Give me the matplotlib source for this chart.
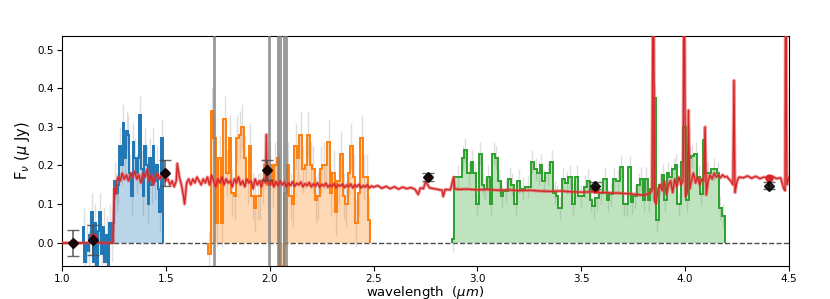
#!/usr/bin/env python3
'''Plot NIRSpec-like spectrum segments with model and photometry'''

import numpy as np
import matplotlib
matplotlib.use('Agg')
import matplotlib.pyplot as plt

# first segment: regular bins
BLUE_START = 1.100
BLUE_STEP = 0.008
blue_flux = [0.04, -0.05, 0.0, -0.02, 0.02, 0.08, -0.05, 0.05, -0.06, 0.03,
             0.08, -0.03, 0.04, -0.05, 0.02, -0.06, 0.05, 0.0, 0.05, 0.16,
             0.13, 0.15, 0.25, 0.20, 0.31, 0.22, 0.29, 0.28, 0.18, 0.12,
             0.26, 0.22, 0.18, 0.22, 0.33, 0.19, 0.12, 0.25, 0.20, 0.10,
             0.22, 0.15, 0.25, 0.16, 0.20, 0.14, 0.08, 0.27]
BLUE_ERR = 0.05

# second segment: regular bins
ORANGE_START = 1.704
ORANGE_STEP = 0.0122
orange_flux = [-0.03, 0.34, 0.27, 0.05, 0.22, 0.05, 0.32, 0.18, 0.27, 0.13,
               0.12, 0.27, 0.28, 0.30, 0.22, 0.16, 0.25, 0.12, 0.09, 0.12,
               0.12, 0.16, 0.20, 0.15, 0.20, 0.15, 0.20, 0.22, -0.06, -0.06,
               0.13, 0.20, 0.12, 0.10, 0.25, 0.22, 0.28, 0.19, 0.20, 0.28,
               0.20, 0.19, 0.11, 0.12, 0.19, 0.20, 0.20, 0.26, 0.13, 0.18,
               0.08, 0.16, 0.23, 0.12, 0.10, 0.18, 0.25, 0.17, 0.05, 0.13,
               0.27, 0.17, 0.17, 0.06]
ORANGE_ERR = 0.06

# third segment: bin edges
green_edges = [2.876, 2.887, 2.924, 2.935, 2.948, 2.968, 2.980, 2.992, 3.008,
               3.021, 3.032, 3.045, 3.061, 3.072, 3.085, 3.098, 3.112, 3.125,
               3.149, 3.160, 3.176, 3.192, 3.205, 3.229, 3.256, 3.272, 3.289,
               3.301, 3.313, 3.325, 3.350, 3.366, 3.378, 3.390, 3.406, 3.422,
               3.438, 3.454, 3.470, 3.486, 3.513, 3.526, 3.542, 3.553, 3.566,
               3.587, 3.606, 3.622, 3.635, 3.651, 3.667, 3.687, 3.699, 3.712,
               3.727, 3.738, 3.751, 3.770, 3.783, 3.796, 3.807, 3.820, 3.831,
               3.847, 3.860, 3.873, 3.887, 3.898, 3.911, 3.924, 3.939, 3.951,
               3.963, 3.979, 3.992, 4.004, 4.017, 4.027, 4.043, 4.059, 4.072,
               4.085, 4.097, 4.123, 4.152, 4.163, 4.176, 4.192]
green_flux = [0.01, 0.17, 0.22, 0.24, 0.18, 0.21, 0.18, 0.10, 0.23, 0.15,
              0.14, 0.17, 0.10, 0.23, 0.22, 0.16, 0.12, 0.135, 0.165, 0.15,
              0.10, 0.16, 0.14, 0.145, 0.21, 0.19, 0.18, 0.20, 0.16, 0.18,
              0.21, 0.13, 0.12, 0.09, 0.165, 0.155, 0.17, 0.10, 0.17, 0.12,
              0.145, 0.16, 0.11, 0.095, 0.115, 0.13, 0.165, 0.11, 0.125, 0.165,
              0.16, 0.195, 0.10, 0.10, 0.195, 0.105, 0.12, 0.15, 0.165, 0.11,
              0.165, 0.11, 0.14, 0.375, 0.06, 0.15, 0.175, 0.11, 0.18, 0.17,
              0.19, 0.20, 0.10, 0.21, 0.30, 0.11, 0.22, 0.225, 0.23, 0.17,
              0.125, 0.265, 0.18, 0.19, 0.18, 0.09, 0.07]
GREEN_ERR = 0.03

# best-fit model
model_wave = [1.00, 1.245, 1.252, 1.258, 1.265,
              1.27, 1.28, 1.29, 1.30, 1.31, 1.32, 1.33, 1.34, 1.35, 1.36,
              1.37, 1.38, 1.39, 1.40, 1.41, 1.42, 1.43, 1.44, 1.45, 1.46,
              1.47, 1.48, 1.49, 1.50, 1.51, 1.52, 1.53, 1.54, 1.55, 1.555,
              1.565, 1.575, 1.585, 1.59, 1.60, 1.61, 1.62, 1.63, 1.64, 1.65,
              1.66, 1.67, 1.68, 1.69, 1.70, 1.71, 1.72, 1.73, 1.74, 1.75,
              1.76, 1.77, 1.78, 1.79, 1.80, 1.81, 1.82, 1.83, 1.84, 1.85,
              1.86, 1.87, 1.88, 1.89, 1.90, 1.91, 1.92, 1.93, 1.94, 1.95,
              1.96, 1.97, 1.98, 1.984, 1.988,
              2.00, 2.01, 2.02, 2.03, 2.04, 2.05, 2.06, 2.07, 2.08, 2.09,
              2.10, 2.11, 2.12, 2.13, 2.14, 2.15, 2.16, 2.17, 2.18, 2.19,
              2.20, 2.21, 2.22, 2.23, 2.24, 2.25, 2.26, 2.27, 2.28, 2.29,
              2.30, 2.31, 2.32, 2.33, 2.34, 2.35, 2.36, 2.37, 2.38, 2.39,
              2.40, 2.41, 2.42, 2.43, 2.44, 2.45, 2.46, 2.47, 2.48, 2.49,
              2.50, 2.52, 2.54, 2.56, 2.58, 2.60, 2.62, 2.64, 2.66, 2.68,
              2.70, 2.715, 2.725, 2.74, 2.75, 2.76, 2.77, 2.79, 2.81, 2.83,
              2.835, 2.845, 2.87, 2.885, 2.89, 2.91,
              2.95, 3.00, 3.05, 3.10, 3.15, 3.20, 3.25, 3.30, 3.35, 3.40,
              3.45, 3.50, 3.55, 3.60, 3.65, 3.70, 3.75, 3.80, 3.83, 3.84,
              3.847, 3.853, 3.86, 3.87, 3.88, 3.89, 3.90, 3.91, 3.92, 3.93,
              3.94, 3.95, 3.96, 3.97, 3.98, 3.99, 3.995, 4.002, 4.01, 4.016,
              4.022, 4.03, 4.04, 4.05, 4.06, 4.07, 4.08, 4.09, 4.096, 4.102,
              4.11, 4.12, 4.13, 4.14, 4.15, 4.16, 4.17, 4.18, 4.19, 4.20,
              4.21, 4.22, 4.23, 4.235, 4.24, 4.25, 4.26, 4.28, 4.30, 4.32,
              4.34, 4.36, 4.38, 4.40, 4.42, 4.44, 4.46, 4.475, 4.481, 4.484,
              4.49, 4.50]
model_flux = [0.0, 0.0, 0.14, 0.125, 0.16,
              0.17, 0.16, 0.18, 0.165, 0.175, 0.16, 0.18, 0.17, 0.185, 0.165,
              0.175, 0.155, 0.18, 0.17, 0.19, 0.16, 0.175, 0.15, 0.17, 0.18,
              0.165, 0.175, 0.17, 0.16, 0.165, 0.15, 0.16, 0.145, 0.16, 0.205,
              0.17, 0.15, 0.12, 0.10, 0.155, 0.165, 0.15, 0.165, 0.155, 0.17,
              0.16, 0.15, 0.165, 0.155, 0.17, 0.15, 0.175, 0.16, 0.145, 0.165,
              0.155, 0.17, 0.15, 0.165, 0.155, 0.16, 0.145, 0.165, 0.155, 0.17,
              0.15, 0.16, 0.145, 0.165, 0.155, 0.16, 0.14, 0.165, 0.15, 0.16,
              0.145, 0.165, 0.155, 0.28, 0.16,
              0.15, 0.162, 0.145, 0.158, 0.148, 0.16, 0.15, 0.157, 0.145, 0.155,
              0.148, 0.158, 0.146, 0.154, 0.15, 0.157, 0.145, 0.153, 0.148, 0.156,
              0.145, 0.152, 0.147, 0.155, 0.144, 0.151, 0.147, 0.154, 0.144, 0.15,
              0.146, 0.153, 0.143, 0.15, 0.147, 0.152, 0.143, 0.149, 0.145, 0.152,
              0.142, 0.15, 0.145, 0.151, 0.142, 0.148, 0.144, 0.15, 0.142, 0.147,
              0.144, 0.148, 0.141, 0.146, 0.14, 0.145, 0.139, 0.144, 0.14, 0.143,
              0.138, 0.125, 0.142, 0.14, 0.158, 0.15, 0.142, 0.14, 0.138, 0.136,
              0.12, 0.138, 0.137, 0.17, 0.14, 0.138,
              0.139, 0.137, 0.138, 0.136, 0.137, 0.135, 0.136, 0.134, 0.133, 0.134,
              0.132, 0.131, 0.132, 0.13, 0.129, 0.128, 0.126, 0.123, 0.128, 0.135,
              0.8, 0.11, 0.10, 0.14, 0.15, 0.135, 0.16, 0.125, 0.15, 0.16,
              0.13, 0.165, 0.145, 0.17, 0.15, 0.16, 0.8, 0.12, 0.13, 0.343,
              0.14, 0.16, 0.18, 0.155, 0.17, 0.15, 0.165, 0.16, 0.30, 0.124,
              0.16, 0.175, 0.165, 0.18, 0.17, 0.175, 0.168, 0.176, 0.17, 0.172,
              0.165, 0.16, 0.15, 0.42, 0.13, 0.16, 0.17, 0.168, 0.173, 0.167,
              0.172, 0.166, 0.17, 0.168, 0.172, 0.166, 0.168, 0.14, 0.135, 0.8,
              0.15, 0.17]

# photometry
phot_wave = [1.053, 1.149, 1.496, 1.987, 2.762, 3.566, 4.404]
phot_flux = [0.0, 0.007, 0.18, 0.188, 0.17, 0.148, 0.148]
phot_err = [0.034, 0.038, 0.033, 0.025, 0.01, 0.01, 0.01]
phot_model = [0.0, 0.015, 0.18, 0.188, 0.17, 0.138, 0.168]

# masked wavelengths
mask_thin = [1.732, 1.998]
mask_wide = [2.046, 2.072]


def regular_edges(start, step, nbins):
    '''bin edges for a regularly sampled segment'''
    return start + step * np.arange(nbins + 1)


def draw_segment(axplt, edges, flux, err, color):
    '''step line, filled area and light error bars'''
    edges = np.asarray(edges)
    flux = np.asarray(flux)
    centers = 0.5 * (edges[1:] + edges[:-1])
    axplt.errorbar(centers, flux, yerr=err, fmt='none', ecolor='0.75',
                   alpha=0.5, lw=1, zorder=1)
    axplt.stairs(flux, edges, baseline=0, fill=True, color=color,
                 alpha=0.3, lw=0, zorder=2)
    axplt.stairs(flux, edges, baseline=0, color=color, lw=1.4, zorder=3)


def plot():
    '''Write plot'''
    fig = plt.figure(figsize=(8.3, 2.99), dpi=100)
    axplt = fig.add_axes([0.0747, 0.1104, 0.8759, 0.7692])

    axplt.axhline(0, color='0.3', ls='--', lw=1, zorder=1)

    draw_segment(axplt, regular_edges(BLUE_START, BLUE_STEP, len(blue_flux)),
                 blue_flux, BLUE_ERR, 'C0')
    draw_segment(axplt, regular_edges(ORANGE_START, ORANGE_STEP, len(orange_flux)),
                 orange_flux, ORANGE_ERR, 'C1')
    assert len(green_edges) == len(green_flux) + 1
    draw_segment(axplt, green_edges, green_flux, GREEN_ERR, 'C2')

    for wav in mask_thin:
        axplt.axvline(wav, color='0.5', lw=2, alpha=0.8, zorder=4)
    for wav in mask_wide:
        axplt.axvline(wav, color='0.5', lw=3.5, alpha=0.8, zorder=4)

    axplt.plot(model_wave, model_flux, color='#e8474a', lw=2.4, alpha=0.55, zorder=5)
    axplt.plot(model_wave, model_flux, color='#d62728', lw=1.0, zorder=5)

    axplt.plot(phot_wave, phot_model, 'o', color='#d62728', ms=5, zorder=6)
    axplt.errorbar(phot_wave, phot_flux, yerr=phot_err, fmt='D', color='k',
                   ecolor='0.3', ms=5.5, capsize=4, elinewidth=1.2, alpha=0.85,
                   zorder=7)

    axplt.set_xlim(1.0, 4.5)
    axplt.set_ylim(-0.06, 0.535)
    axplt.set_xticks([1.0, 1.5, 2.0, 2.5, 3.0, 3.5, 4.0, 4.5])
    axplt.set_yticks([0.0, 0.1, 0.2, 0.3, 0.4, 0.5])
    axplt.tick_params(labelsize=7.5, pad=2.5)
    axplt.set_xlabel(r'wavelength  ($\mu m$)', fontsize=9.5, labelpad=-0.5)
    axplt.set_ylabel(r'F$_\nu$ ($\mu$ Jy)', fontsize=10.5)
    fig.savefig('out.png', dpi=100)


if __name__ == '__main__':
    plot()
